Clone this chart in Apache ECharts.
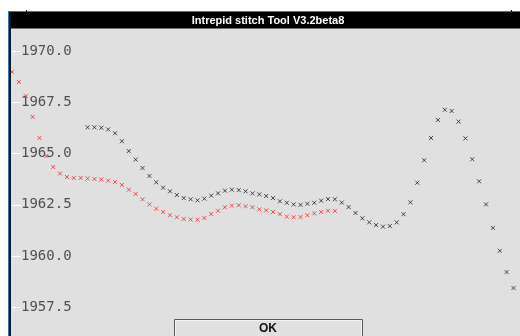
<!DOCTYPE html>
<html>
<head>
<meta charset="utf-8">
<script src="https://cdn.jsdelivr.net/npm/echarts@6/dist/echarts.min.js"></script>
<style>
  html, body { margin: 0; padding: 0; background: #ffffff; }
  #chart { width: 520px; height: 336px; }
</style>
</head>
<body>
<div id="chart"></div>
<script>
// Sample positions along the stitch (shared by both traces)
const sampleCount = 74;
// Red trace starts at sample 0, black trace starts at sample 11
const redStart = 0;
const blackStart = 11;

const redValues = [
  1969.00, 1968.51, 1967.82, 1966.80, 1965.77, 1964.89, 1964.35, 1964.03,
  1963.86, 1963.81, 1963.81, 1963.79, 1963.76, 1963.74, 1963.68, 1963.62,
  1963.47, 1963.24, 1963.03, 1962.77, 1962.52, 1962.31, 1962.15, 1961.99,
  1961.89, 1961.81, 1961.78, 1961.77, 1961.85, 1962.05, 1962.21, 1962.38,
  1962.46, 1962.48, 1962.43, 1962.38, 1962.28, 1962.23, 1962.15, 1962.04,
  1961.92, 1961.89, 1961.90, 1961.99, 1962.08, 1962.15, 1962.21, 1962.20
];

const blackValues = [
  1966.29, 1966.29, 1966.27, 1966.19, 1966.00, 1965.61, 1965.13, 1964.71,
  1964.30, 1963.91, 1963.60, 1963.34, 1963.16, 1962.98, 1962.83, 1962.77,
  1962.72, 1962.80, 1962.95, 1963.06, 1963.19, 1963.24, 1963.22, 1963.16,
  1963.06, 1963.01, 1962.93, 1962.83, 1962.67, 1962.60, 1962.52, 1962.50,
  1962.55, 1962.60, 1962.70, 1962.78, 1962.77, 1962.61, 1962.39, 1962.10,
  1961.84, 1961.64, 1961.51, 1961.43, 1961.46, 1961.64, 1962.04, 1962.62,
  1963.58, 1964.68, 1965.77, 1966.65, 1967.15, 1967.09, 1966.57, 1965.75,
  1964.73, 1963.65, 1962.52, 1961.37, 1960.25, 1959.21, 1958.43
];

// Y axis range and tick step (labels shown: 1957.5 ... 1970.0)
const yMin = 1955;
const yMax = 1972.5;
const yStep = 2.5;

const windowTitle = 'Intrepid stitch Tool V3.2beta8';
const buttonLabel = 'OK';

const sampleLabels = [];
for (let i = 0; i < sampleCount; i++) sampleLabels.push(String(i));

const toPairs = (start, vals) => vals.map((v, i) => [start + i, v]);

const crossSymbol = 'path://M0,0L10,10M10,0L0,10';

const chart = echarts.init(document.getElementById('chart'), null, { renderer: 'canvas' });

chart.setOption({
  animation: false,
  backgroundColor: '#e0e0e0',
  // plot area runs past the bottom of the window
  grid: {
    left: 12, top: 0.4, width: 501.5, height: 357.7,
    containLabel: false,
    outerBoundsMode: 'none'
  },
  xAxis: {
    type: 'category',
    data: sampleLabels,
    boundaryGap: false,
    show: false
  },
  yAxis: {
    type: 'value',
    min: yMin,
    max: yMax,
    interval: yStep,
    axisLine: { show: false },
    splitLine: { show: false },
    axisTick: { show: true, inside: true, length: 9, lineStyle: { color: '#ffffff', width: 1 } },
    axisLabel: {
      inside: true,
      margin: 9,
      showMinLabel: false,
      showMaxLabel: false,
      color: '#505050',
      fontFamily: 'DejaVu Sans Mono',
      fontSize: 14,
      verticalAlign: 'middle',
      formatter: v => v.toFixed(1)
    }
  },
  series: [
    {
      name: 'black',
      type: 'scatter',
      data: toPairs(blackStart, blackValues),
      symbol: crossSymbol,
      symbolSize: 4,
      silent: true,
      itemStyle: { color: 'transparent', borderColor: '#222222', borderWidth: 1 }
    },
    {
      name: 'red',
      type: 'scatter',
      data: toPairs(redStart, redValues),
      symbol: crossSymbol,
      symbolSize: 4,
      silent: true,
      itemStyle: { color: 'transparent', borderColor: '#f02a2a', borderWidth: 1 }
    }
  ],
  graphic: [
    // desktop strip above and left of the window
    { type: 'rect', z: 100, shape: { x: 0, y: 0, width: 520, height: 11 }, style: { fill: '#ffffff' } },
    { type: 'rect', z: 100, shape: { x: 0, y: 0, width: 8, height: 336 }, style: { fill: '#ffffff' } },
    // window frame
    { type: 'rect', z: 101, shape: { x: 8, y: 11, width: 512, height: 1 }, style: { fill: '#2a78b8' } },
    { type: 'rect', z: 101, shape: { x: 8, y: 11, width: 1, height: 325 }, style: { fill: '#2a78b8' } },
    { type: 'rect', z: 101, shape: { x: 9, y: 12, width: 2, height: 324 }, style: { fill: '#0c1420' } },
    { type: 'rect', z: 102, shape: { x: 26, y: 10, width: 1, height: 3 }, style: { fill: '#0c1420' } },
    { type: 'rect', z: 102, shape: { x: 511, y: 10, width: 1, height: 3 }, style: { fill: '#0c1420' } },
    // title bar
    { type: 'rect', z: 101, shape: { x: 11, y: 12, width: 509, height: 16.5 }, style: { fill: '#000000' } },
    {
      type: 'text', z: 103, x: 268, y: 21,
      style: {
        text: windowTitle, fill: '#ffffff',
        font: 'bold 11px "Liberation Sans", Arial, sans-serif',
        align: 'center', verticalAlign: 'middle'
      }
    },
    // dismiss button
    {
      type: 'rect', z: 101,
      shape: { x: 174.5, y: 319.5, width: 188, height: 30 },
      style: { fill: '#e0e0e0', stroke: '#5a5a5a', lineWidth: 1 }
    },
    {
      type: 'rect', z: 101,
      shape: { x: 175.5, y: 320.5, width: 186, height: 28 },
      style: { fill: 'none', stroke: '#f4f4f4', lineWidth: 1 }
    },
    {
      type: 'text', z: 103, x: 268, y: 329,
      style: {
        text: buttonLabel, fill: '#111111',
        font: 'bold 12px "Liberation Sans", Arial, sans-serif',
        align: 'center', verticalAlign: 'middle'
      }
    }
  ]
});
</script>
</body>
</html>
